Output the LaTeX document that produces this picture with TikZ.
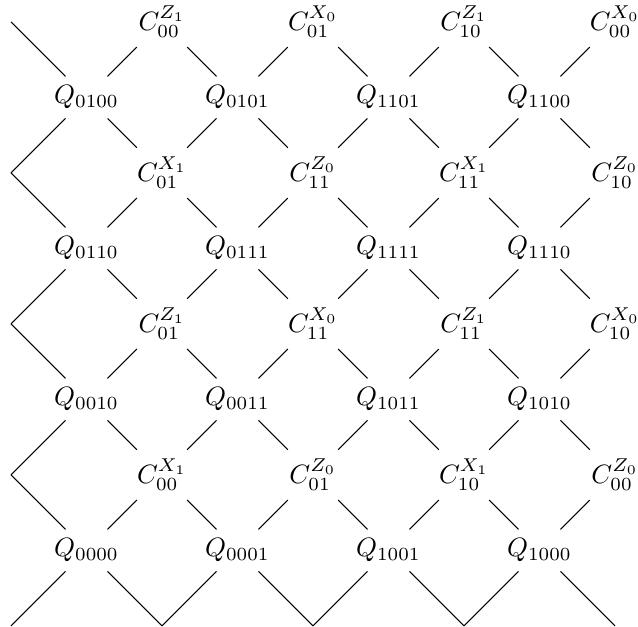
\documentclass[tikz,border=0pt]{standalone}
\begin{document}
\begin{tikzpicture}[x=1cm,y=1cm, link/.style={line width=0.4pt}]
\useasboundingbox (-0.146,-0.013) rectangle (8.305,8.291);
% qubit nodes
\foreach \x/\y/\t in {1/7/0100, 3/7/0101, 5/7/1101, 7/7/1100,
                      1/5/0110, 3/5/0111, 5/5/1111, 7/5/1110,
                      1/3/0010, 3/3/0011, 5/3/1011, 7/3/1010,
                      1/1/0000, 3/1/0001, 5/1/1001, 7/1/1000}
  {\node (p-\x-\y) at (\x,\y) {$Q_{\t}$};}
% check nodes
\foreach \x/\y/\s/\t in {2/8/Z_1/00, 4/8/X_0/01, 6/8/Z_1/10, 8/8/X_0/00,
                         2/6/X_1/01, 4/6/Z_0/11, 6/6/X_1/11, 8/6/Z_0/10,
                         2/4/Z_1/01, 4/4/X_0/11, 6/4/Z_1/11, 8/4/X_0/10,
                         2/2/X_1/00, 4/2/Z_0/01, 6/2/X_1/10, 8/2/Z_0/00}
  {\node (p-\x-\y) at (\x,\y) {$C^{\s}_{\t}$};}
% wrap-around ends
\foreach \y in {0,2,4,6,8} {\coordinate (p-0-\y) at (0,\y);}
\foreach \x in {2,4,6,8} {\coordinate (p-\x-0) at (\x,0);}
% connectors
\foreach \x in {1,3,5,7} {
  \foreach \y in {1,3,5,7} {
    \pgfmathtruncatemacro{\xl}{\x-1}
    \pgfmathtruncatemacro{\xr}{\x+1}
    \pgfmathtruncatemacro{\yd}{\y-1}
    \pgfmathtruncatemacro{\yu}{\y+1}
    \draw[link] (p-\x-\y) -- (p-\xl-\yu);
    \draw[link] (p-\x-\y) -- (p-\xr-\yu);
    \draw[link] (p-\x-\y) -- (p-\xl-\yd);
    \draw[link] (p-\x-\y) -- (p-\xr-\yd);
  }
}
\end{tikzpicture}
\end{document}
